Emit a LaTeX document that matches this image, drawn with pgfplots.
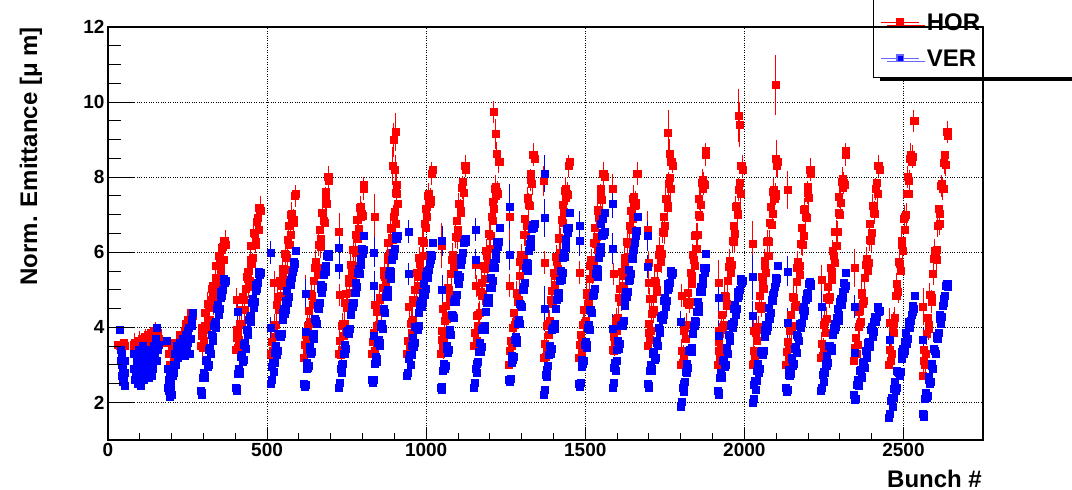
\documentclass[border=0pt]{standalone}
\usepackage{fontspec}
\setmainfont{Liberation Sans}
\usepackage{pgfplots}
\pgfplotsset{compat=1.18}
\usetikzlibrary{shadows}
\definecolor{rootred}{RGB}{255,0,0}
\definecolor{rootblue}{RGB}{0,0,255}
\pgfplotsset{
  horstyle/.style={forget plot, only marks, mark=square*, mark size=3.5bp, color=rootred, mark options={draw=none, fill=rootred}},
  verstyle/.style={forget plot, only marks, mark=square*, mark size=3.5bp, color=rootblue, mark options={draw=none, fill=rootblue}},
}
\begin{document}
\begin{tikzpicture}
\useasboundingbox (-108bp,-50bp) rectangle (964bp,440bp);
\begin{axis}[
  at={(0,0)}, anchor=south west,
  scale only axis, width=875bp, height=413bp,
  xmin=0, xmax=2750, ymin=1, ymax=12,
  xtick={0,500,...,2500}, ytick={2,4,...,12},
  minor x tick num=4, minor y tick num=3,
  xtick pos=bottom, ytick pos=left, tick align=inside,
  major tick length=13bp, minor tick length=7bp,
  grid=major, grid style={black, dotted, line width=0.8bp},
  axis line style={black, line width=1.2bp},
  tick style={black, line width=1bp},
  /pgf/number format/assume math mode=true,
  /pgf/number format/1000 sep={},
  ticklabel style={font=\bfseries\fontsize{19bp}{19bp}\selectfont},
  xlabel={Bunch \#},
  ylabel={Norm. Emittance [μ m]},
  xlabel style={at={(axis description cs:0.9989,-0.1138)}, anchor=base east, inner sep=0pt, font=\bfseries\fontsize{24bp}{24bp}\selectfont},
  ylabel style={at={(axis description cs:-0.0811,1)}, anchor=base east, inner sep=0pt, font=\bfseries\fontsize{24bp}{24bp}\selectfont},
  legend style={at={(axis description cs:0.8743,0.8758)}, anchor=south west, draw=black, line width=1bp, fill=white,
    inner xsep=7bp, inner ysep=11bp, row sep=16bp,
    font=\bfseries\fontsize{24bp}{24bp}\selectfont,
    nodes={inner xsep=4bp, inner ysep=0bp, text height=20bp, text depth=0bp},
    cells={anchor=west},
    drop shadow={shadow xshift=6bp, shadow yshift=-3.5bp, fill=black, opacity=1}},
  legend image code/.code={\draw[mark repeat=2, mark phase=2, #1, sharp plot, line width=1.3bp] plot coordinates {(0bp,-1.4bp) (19bp,-1.4bp) (38bp,-1.4bp)};},
]
% HOR, trains (first set)
\addplot[horstyle] table {
32 3.55
36 3.50
40 3.45
44 3.30
48 3.60
52 3.50
80 3.40
85 3.60
90 3.30
95 3.65
100 3.50
105 3.70
110 3.60
115 3.75
120 3.55
125 3.80
130 3.70
135 3.85
140 3.80
145 3.90
150 3.75
155 3.85
185 3.60
190 3.30
195 3.00
200 3.40
205 3.20
210 3.60
215 3.40
220 3.50
225 3.80
230 3.70
235 3.60
240 3.90
245 4.10
250 4.20
255 4.00
260 4.40
265 4.30
290 3.50
295 3.98
300 3.65
305 4.38
310 3.95
315 4.53
320 4.20
325 5.03
330 4.90
335 4.78
340 5.65
345 5.28
350 5.85
355 5.48
360 6.15
365 6.30
370 6.20
400 3.40
405 3.94
410 3.68
415 4.46
420 4.10
425 4.74
430 4.48
435 5.36
440 5.30
445 5.24
450 6.18
455 5.86
460 6.50
465 6.19
470 6.93
475 7.20
480 7.10
510 3.30
515 3.26
520 4.03
525 3.74
530 4.60
535 4.46
540 5.23
545 4.84
550 5.40
555 5.96
560 5.53
565 6.34
570 6.20
575 7.01
580 6.78
585 6.79
590 7.55
615 3.20
620 3.80
625 3.60
630 4.45
635 4.15
640 4.85
645 4.65
650 5.60
655 5.60
660 5.60
665 6.60
670 6.35
675 7.05
680 6.80
685 7.60
690 8.00
695 7.90
725 3.30
730 3.28
735 4.05
740 3.78
745 4.65
750 4.53
755 5.30
760 4.93
765 5.50
770 6.08
775 5.65
780 6.48
785 6.35
790 7.18
795 6.95
800 6.98
805 7.80
830 3.30
835 3.86
840 3.61
845 4.42
850 4.08
855 4.73
860 4.49
865 5.39
870 5.35
875 5.31
880 6.26
885 5.97
890 6.63
895 6.33
900 7.09
905 7.59
910 7.30
940 3.30
945 3.30
950 4.10
955 3.85
960 4.75
965 4.65
970 5.45
975 5.10
980 5.70
985 6.30
990 5.90
995 6.75
1000 6.65
1005 7.50
1010 7.30
1015 7.35
1020 8.20
1045 3.30
1050 3.91
1055 3.73
1060 4.59
1065 4.30
1070 5.01
1075 4.83
1080 5.79
1085 5.80
1090 5.81
1095 6.83
1100 6.59
1105 7.30
1110 7.06
1115 7.88
1120 8.30
1125 8.20
1150 3.50
1155 3.50
1160 4.30
1165 4.05
1170 4.95
1175 4.85
1180 5.65
1185 5.30
1190 5.90
1195 6.50
1200 6.10
1205 6.95
1210 6.85
1215 7.70
1220 7.50
1225 7.55
1230 8.40
1260 3.00
1265 3.65
1270 3.50
1275 4.40
1280 4.15
1285 4.90
1290 4.75
1295 5.75
1300 5.80
1305 5.85
1310 6.90
1315 6.70
1320 7.45
1325 7.25
1330 8.10
1335 8.60
1340 8.50
1370 3.20
1375 3.22
1380 4.04
1385 3.81
1390 4.73
1395 4.64
1400 5.46
1405 5.13
1410 5.75
1415 6.37
1420 5.99
1425 6.86
1430 6.78
1435 7.64
1440 7.46
1445 7.53
1450 8.40
1480 3.20
1485 3.81
1490 3.61
1495 4.47
1500 4.18
1505 4.88
1510 4.69
1515 5.64
1520 5.65
1525 5.66
1530 6.66
1535 6.42
1540 7.13
1545 6.88
1550 7.69
1555 8.10
1560 8.00
1585 3.40
1590 3.39
1595 4.18
1600 3.91
1605 4.80
1610 4.69
1615 5.48
1620 5.11
1625 5.70
1630 6.29
1635 5.88
1640 6.71
1645 6.60
1650 7.44
1655 7.23
1660 7.26
1665 8.10
1695 3.50
1700 4.11
1705 3.91
1710 4.77
1715 4.48
1720 5.18
1725 4.99
1730 5.94
1735 5.95
1740 5.96
1745 6.96
1750 6.72
1755 7.43
1760 7.18
1765 7.99
1770 8.40
1775 8.30
1800 3.00
1805 3.05
1810 3.90
1815 3.70
1820 4.65
1825 4.60
1830 5.45
1835 5.15
1840 5.80
1845 6.45
1850 6.10
1855 7.00
1860 6.95
1865 7.85
1870 7.70
1875 7.80
1880 8.70
1915 3.00
1920 3.63
1925 3.46
1930 4.34
1935 4.08
1940 4.81
1945 4.64
1950 5.62
1955 5.65
1960 5.68
1965 6.71
1970 6.49
1975 7.23
1980 7.01
1985 7.84
1990 8.30
1995 8.20
2025 3.00
2030 3.03
2035 3.86
2040 3.64
2045 4.58
2050 4.51
2055 5.34
2060 5.02
2065 5.65
2070 6.28
2075 5.91
2080 6.79
2085 6.73
2090 7.61
2095 7.44
2100 7.52
2105 8.40
2130 3.00
2135 3.63
2140 3.45
2145 4.33
2150 4.05
2155 4.78
2160 4.60
2165 5.58
2170 5.60
2175 5.63
2180 6.65
2185 6.43
2190 7.15
2195 6.93
2200 7.75
2205 8.20
2210 8.10
2240 3.20
2245 3.24
2250 4.08
2255 3.86
2260 4.80
2265 4.74
2270 5.58
2275 5.26
2280 5.90
2285 6.54
2290 6.18
2295 7.06
2300 7.00
2305 7.89
2310 7.73
2315 7.81
2320 8.70
2345 3.10
2350 3.73
2355 3.55
2360 4.43
2365 4.15
2370 4.88
2375 4.70
2380 5.68
2385 5.70
2390 5.73
2395 6.75
2400 6.53
2405 7.25
2410 7.03
2415 7.85
2420 8.30
2425 8.20
2455 3.00
2460 3.10
2465 4.00
2470 3.85
2475 4.85
2480 4.85
2485 5.75
2490 5.50
2495 6.20
2500 6.90
2505 6.60
2510 7.55
2515 7.55
2520 8.50
2525 8.40
2530 8.55
2535 9.50
2560 2.70
2565 3.41
2570 3.31
2575 4.27
2580 4.08
2585 4.88
2590 4.79
2595 5.84
2600 5.95
2605 6.06
2610 7.16
2615 7.02
2620 7.83
2625 7.68
2630 8.59
2635 9.20
2640 9.10
};
% HOR, trains (interleaved bunches)
\addplot[horstyle, error bars/.cd, y dir=both, y fixed=0.3, error mark=none, error bar style={rootred, line width=1bp}] table {
82 3.55
88 3.45
98 3.60
108 3.45
118 3.65
128 3.60
138 3.70
148 3.85
158 3.70
212 3.40
232 3.55
242 3.70
248 3.75
252 3.85
262 4.10
293 3.79
298 3.46
303 4.04
308 3.96
313 4.64
318 4.21
323 4.74
328 5.11
333 4.64
338 5.31
343 5.14
348 5.91
353 5.59
358 6.06
363 5.79
368 6.30
403 3.72
408 3.46
413 4.09
418 4.08
423 4.82
428 4.46
433 5.04
438 5.48
443 5.07
448 5.81
453 5.69
458 6.53
463 6.27
468 6.81
473 6.59
478 7.20
513 3.63
518 3.39
523 4.06
528 4.07
533 4.83
538 4.49
543 5.11
548 5.57
553 5.18
558 5.94
563 5.86
568 6.72
573 6.48
578 7.04
583 6.86
588 7.50
618 3.55
623 3.35
628 4.05
633 4.10
638 4.90
643 4.60
648 5.25
653 5.75
658 5.40
663 6.20
668 6.15
673 7.05
678 6.85
683 7.45
688 7.30
693 8.00
728 3.64
733 3.41
738 4.09
743 4.11
748 4.89
753 4.56
758 5.19
763 5.66
768 5.29
773 6.06
778 5.99
783 6.86
788 6.64
793 7.21
798 7.04
803 7.70
833 3.63
838 3.38
843 4.04
848 4.05
853 4.80
858 4.46
863 5.06
868 5.52
873 5.13
878 5.88
883 5.79
888 6.65
893 6.40
898 6.96
903 6.77
908 7.57
943 3.65
948 3.45
953 4.15
958 4.20
963 5.00
968 4.70
973 5.35
978 5.85
983 5.50
988 6.30
993 6.25
998 7.15
1003 6.95
1008 7.55
1013 7.40
1018 8.10
1048 3.66
1053 3.47
1058 4.18
1063 4.24
1068 5.06
1073 4.77
1078 5.43
1083 5.94
1088 5.61
1093 6.42
1098 6.38
1103 7.29
1108 7.11
1113 7.72
1118 7.58
1123 8.30
1153 3.85
1158 3.65
1163 4.35
1168 4.40
1173 5.20
1178 4.90
1183 5.55
1188 6.05
1193 5.70
1198 6.50
1203 6.45
1208 7.35
1213 7.15
1218 7.75
1223 7.60
1228 8.40
1263 3.38
1268 3.23
1273 3.98
1278 4.08
1283 4.93
1288 4.68
1293 5.38
1298 5.93
1303 5.63
1308 6.48
1313 6.48
1318 7.43
1323 7.28
1328 7.93
1333 7.83
1338 8.60
1373 3.56
1378 3.38
1383 4.10
1388 4.17
1393 4.98
1398 4.70
1403 5.37
1408 5.89
1413 5.56
1418 6.38
1423 6.35
1428 7.27
1433 7.08
1438 7.70
1443 7.57
1448 8.30
1483 3.55
1488 3.36
1493 4.07
1498 4.12
1503 4.93
1508 4.64
1513 5.29
1518 5.80
1523 5.45
1528 6.26
1533 6.22
1538 7.12
1543 6.93
1548 7.53
1553 7.39
1558 8.10
1588 3.74
1593 3.53
1598 4.22
1603 4.26
1608 5.04
1613 4.73
1618 5.37
1623 5.86
1628 5.49
1633 6.28
1638 6.22
1643 7.11
1648 6.89
1653 7.48
1658 7.32
1663 8.10
1698 3.85
1703 3.66
1708 4.37
1713 4.42
1718 5.23
1723 4.94
1728 5.59
1733 6.10
1738 5.75
1743 6.56
1748 6.52
1753 7.42
1758 7.23
1763 7.83
1768 7.69
1773 8.40
1803 3.38
1808 3.23
1813 3.98
1818 4.08
1823 4.93
1828 4.68
1833 5.38
1838 5.93
1843 5.63
1848 6.48
1853 6.48
1858 7.43
1863 7.28
1868 7.93
1873 7.83
1878 8.60
1918 3.37
1923 3.20
1928 3.93
1933 4.01
1938 4.84
1943 4.57
1948 5.25
1953 5.78
1958 5.46
1963 6.30
1968 6.28
1973 7.21
1978 7.04
1983 7.67
1988 7.55
1993 8.30
2028 3.37
2033 3.20
2038 3.93
2043 4.01
2048 4.84
2053 4.57
2058 5.25
2063 5.78
2068 5.46
2073 6.30
2078 6.28
2083 7.21
2088 7.04
2093 7.67
2098 7.55
2103 8.30
2133 3.36
2138 3.19
2143 3.91
2148 3.99
2153 4.81
2158 4.54
2163 5.21
2168 5.74
2173 5.41
2178 6.24
2183 6.21
2188 7.14
2193 6.96
2198 7.59
2203 7.46
2208 8.20
2243 3.57
2248 3.41
2253 4.14
2258 4.23
2263 5.07
2268 4.81
2273 5.49
2278 6.03
2283 5.72
2288 6.56
2293 6.54
2298 7.48
2303 7.32
2308 7.96
2313 7.84
2318 8.60
2348 3.46
2353 3.29
2358 4.01
2363 4.09
2368 4.91
2373 4.64
2378 5.31
2383 5.84
2388 5.51
2393 6.34
2398 6.31
2403 7.24
2408 7.06
2413 7.69
2418 7.56
2423 8.30
2458 3.40
2463 3.30
2468 4.10
2473 4.25
2478 5.15
2483 4.95
2488 5.70
2493 6.30
2498 6.05
2503 6.95
2508 7.00
2513 8.00
2518 7.90
2523 8.60
2528 8.55
2533 9.50
2563 3.10
2568 3.01
2573 3.82
2578 3.97
2583 4.88
2588 4.69
2593 5.44
2598 6.05
2603 5.81
2608 6.71
2613 6.77
2618 7.77
2623 7.68
2628 8.39
2633 8.34
2638 9.20
};
% HOR, isolated bunches
\addplot[horstyle, error bars/.cd, y dir=both, y explicit, error mark=none, error bar style={rootred, line width=1bp}]
  table[x index=0, y index=1, y error index=2] {
405 4.75 0.30
522 5.20 0.30
622 4.90 0.50
726 6.55 0.50
728 4.86 0.30
839 6.96 0.60
839 4.60 0.30
895 8.30 0.50
898 9.00 0.45
902 8.20 0.40
905 9.20 0.50
908 7.80 0.30
946 4.54 0.30
1049 6.17 0.60
1052 4.50 0.30
1155 5.68 0.40
1157 5.10 0.30
1212 9.74 0.30
1218 9.16 0.40
1222 8.63 0.30
1262 6.96 0.70
1263 5.11 0.30
1370 7.90 0.40
1372 5.73 0.30
1483 5.46 0.30
1587 7.68 0.40
1588 5.42 0.30
1697 6.60 0.50
1699 5.73 0.30
1700 5.20 0.30
1702 4.76 0.30
1760 9.18 0.60
1764 8.63 0.40
1802 4.85 0.30
1918 5.20 0.60
1918 3.90 0.30
1982 9.65 0.70
1986 9.40 0.60
2027 6.24 0.60
2028 3.90 0.30
2098 10.46 0.80
2100 8.50 0.50
2137 7.66 0.50
2242 5.27 0.40
2347 5.58 0.50
2457 4.12 0.40
2562 4.56 0.50
};
% VER, trains (first set)
\addplot[verstyle] table {
40 3.40
42 3.20
44 3.00
46 2.90
48 2.80
50 2.60
52 2.45
54 3.10
44 3.30
50 2.70
80 2.90
82 3.30
85 2.60
90 3.10
92 2.50
95 3.40
100 2.80
105 3.20
108 2.70
110 3.50
112 2.60
115 3.00
118 2.70
120 3.30
125 2.90
128 2.65
130 3.40
135 3.10
138 2.70
140 3.30
145 3.50
148 3.20
150 3.70
155 3.40
185 3.65
187 2.90
190 2.60
192 2.30
195 2.15
197 2.50
200 2.20
203 2.70
206 3.00
210 3.30
215 3.50
220 3.20
225 3.60
230 3.40
235 3.70
240 3.50
240 3.25
245 3.80
250 3.60
255 4.00
258 3.30
262 4.20
266 4.40
290 2.30
295 2.25
300 2.80
305 2.70
310 3.15
315 3.00
320 3.45
325 3.80
330 3.65
335 4.10
340 4.15
345 4.60
350 4.50
355 4.95
360 5.00
365 5.30
370 5.25
400 2.40
405 2.36
410 2.91
415 2.82
420 3.28
425 3.13
430 3.59
435 3.94
440 3.80
445 4.26
450 4.31
455 4.77
460 4.68
465 5.13
470 5.19
475 5.49
480 5.45
510 2.50
515 2.96
520 2.81
525 3.32
530 3.28
535 3.83
540 3.79
545 3.84
550 4.40
555 4.36
560 4.71
565 4.67
570 5.18
575 5.13
580 5.49
585 5.59
590 6.05
615 2.50
620 2.48
625 3.06
630 2.99
635 3.48
640 3.36
645 3.84
650 4.22
655 4.10
660 4.58
665 4.66
670 5.14
675 5.08
680 5.56
685 5.64
690 5.97
695 5.95
725 2.40
730 2.89
735 2.78
740 3.31
745 3.30
750 3.89
755 3.88
760 3.96
765 4.55
770 4.54
775 4.93
780 4.91
785 5.45
790 5.44
795 5.83
800 5.96
805 6.45
830 2.60
835 2.61
840 3.21
845 3.17
850 3.68
855 3.58
860 4.09
865 4.49
870 4.40
875 4.91
880 5.01
885 5.52
890 5.48
895 5.98
900 6.09
905 6.44
910 6.45
940 2.70
945 3.16
950 3.01
955 3.52
960 3.48
965 4.03
970 3.99
975 4.04
980 4.60
985 4.56
990 4.91
995 4.87
1000 5.38
1005 5.33
1010 5.69
1015 5.79
1020 6.25
1045 2.40
1050 2.41
1055 3.03
1060 2.99
1065 3.50
1070 3.41
1075 3.93
1080 4.34
1085 4.25
1090 4.76
1095 4.88
1100 5.39
1105 5.35
1110 5.86
1115 5.98
1120 6.34
1125 6.35
1150 2.40
1155 2.90
1160 2.80
1165 3.35
1170 3.35
1175 3.95
1180 3.95
1185 4.05
1190 4.65
1195 4.65
1200 5.05
1205 5.05
1210 5.60
1215 5.60
1220 6.00
1225 6.15
1230 6.65
1260 2.60
1265 2.63
1270 3.25
1275 3.23
1280 3.75
1285 3.68
1290 4.20
1295 4.63
1300 4.55
1305 5.08
1310 5.20
1315 5.73
1320 5.70
1325 6.23
1330 6.35
1335 6.73
1340 6.75
1370 2.20
1375 2.74
1380 2.68
1385 3.26
1390 3.30
1395 3.94
1400 3.98
1405 4.11
1410 4.75
1415 4.79
1420 5.23
1425 5.26
1430 5.85
1435 5.89
1440 6.33
1445 6.51
1450 7.05
1480 2.50
1485 2.52
1490 3.14
1495 3.11
1500 3.63
1505 3.54
1510 4.06
1515 4.48
1520 4.40
1525 4.92
1530 5.04
1535 5.56
1540 5.53
1545 6.04
1550 6.16
1555 6.53
1560 6.55
1585 2.40
1590 2.92
1595 2.84
1600 3.41
1605 3.43
1610 4.04
1615 4.06
1620 4.18
1625 4.80
1630 4.82
1635 5.24
1640 5.26
1645 5.83
1650 5.84
1655 6.26
1660 6.43
1665 6.95
1695 2.50
1700 2.45
1705 3.00
1710 2.90
1715 3.35
1720 3.20
1725 3.65
1730 4.00
1735 3.85
1740 4.30
1745 4.35
1750 4.80
1755 4.70
1760 5.15
1765 5.20
1770 5.50
1775 5.45
1800 1.90
1805 2.39
1810 2.28
1815 2.81
1820 2.80
1825 3.39
1830 3.38
1835 3.46
1840 4.05
1845 4.04
1850 4.43
1855 4.41
1860 4.95
1865 4.94
1870 5.33
1875 5.46
1880 5.95
1915 2.30
1920 2.25
1925 2.80
1930 2.70
1935 3.15
1940 3.00
1945 3.45
1950 3.80
1955 3.65
1960 4.10
1965 4.15
1970 4.60
1975 4.50
1980 4.95
1985 5.00
1990 5.30
1995 5.25
2025 2.00
2030 2.46
2035 2.33
2040 2.84
2045 2.80
2050 3.36
2055 3.33
2060 3.39
2065 3.95
2070 3.91
2075 4.28
2080 4.24
2085 4.75
2090 4.71
2095 5.08
2100 5.19
2105 5.65
2130 2.40
2135 2.34
2140 2.88
2145 2.76
2150 3.20
2155 3.04
2160 3.48
2165 3.81
2170 3.65
2175 4.09
2180 4.13
2185 4.56
2190 4.45
2195 4.89
2200 4.93
2205 5.21
2210 5.15
2240 2.30
2245 2.73
2250 2.56
2255 3.04
2260 2.98
2265 3.51
2270 3.44
2275 3.47
2280 4.00
2285 3.93
2290 4.26
2295 4.19
2300 4.68
2305 4.61
2310 4.94
2315 5.02
2320 5.45
2345 2.20
2350 2.11
2355 2.61
2360 2.47
2365 2.88
2370 2.68
2375 3.09
2380 3.39
2385 3.20
2390 3.61
2395 3.61
2400 4.02
2405 3.88
2410 4.28
2415 4.29
2420 4.54
2425 4.45
2455 1.60
2460 2.04
2465 1.88
2470 2.36
2475 2.30
2480 2.84
2485 2.78
2490 2.81
2495 3.35
2500 3.29
2505 3.63
2510 3.56
2515 4.05
2520 3.99
2525 4.33
2530 4.41
2535 4.85
2560 1.70
2565 1.68
2570 2.26
2575 2.19
2580 2.68
2585 2.56
2590 3.04
2595 3.42
2600 3.30
2605 3.78
2610 3.86
2615 4.34
2620 4.28
2625 4.76
2630 4.84
2635 5.17
2640 5.15
};
% VER, trains (interleaved bunches)
\addplot[verstyle] table {
41 3.10
43 2.70
47 2.55
53 2.80
87 2.80
97 3.00
102 3.30
103 2.45
113 3.20
117 2.95
122 3.10
132 3.00
142 2.90
153 3.10
158 3.55
189 2.40
194 2.70
198 2.35
205 2.80
212 3.00
218 3.40
228 3.30
232 3.55
238 3.60
248 3.40
252 3.90
260 3.70
264 4.05
293 2.20
298 2.65
303 2.65
308 3.10
313 2.95
318 3.40
323 3.30
328 3.75
333 4.05
338 4.00
343 4.50
348 4.35
353 4.80
358 4.85
363 5.25
368 5.20
403 2.30
408 2.76
413 2.77
418 3.22
423 3.08
428 3.53
433 3.44
438 3.90
443 4.20
448 4.16
453 4.67
458 4.52
463 4.98
468 5.03
473 5.44
478 5.40
513 2.60
518 3.06
523 3.07
528 3.52
533 3.38
538 3.83
543 3.74
548 4.20
553 4.50
558 4.46
563 4.97
568 4.82
573 5.28
578 5.33
583 5.74
588 5.70
618 2.42
623 2.90
628 2.93
633 3.41
638 3.29
643 3.77
648 3.70
653 4.18
658 4.52
663 4.50
668 5.03
673 4.91
678 5.39
683 5.47
688 5.90
693 5.88
728 2.52
733 3.01
738 3.04
743 3.53
748 3.42
753 3.91
758 3.84
763 4.33
768 4.67
773 4.66
778 5.19
783 5.08
788 5.57
793 5.66
798 6.09
803 6.08
833 2.53
838 3.03
843 3.09
848 3.60
853 3.50
858 4.01
863 3.96
868 4.47
873 4.83
878 4.83
883 5.39
888 5.30
893 5.80
898 5.91
903 6.37
908 6.37
943 2.80
948 3.26
953 3.27
958 3.72
963 3.58
968 4.03
973 3.94
978 4.40
983 4.70
988 4.66
993 5.17
998 5.02
1003 5.48
1008 5.53
1013 5.94
1018 5.90
1048 2.33
1053 2.84
1058 2.91
1063 3.42
1068 3.33
1073 3.84
1078 3.81
1083 4.32
1088 4.68
1093 4.69
1098 5.26
1103 5.17
1108 5.68
1113 5.79
1118 6.26
1123 6.27
1153 2.53
1158 3.03
1163 3.08
1168 3.58
1173 3.48
1178 3.98
1183 3.93
1188 4.43
1193 4.78
1198 4.78
1203 5.33
1208 5.23
1213 5.73
1218 5.83
1223 6.28
1228 6.28
1263 2.54
1268 3.06
1273 3.14
1278 3.66
1283 3.59
1288 4.11
1293 4.09
1298 4.61
1303 4.99
1308 5.01
1313 5.59
1318 5.51
1323 6.04
1328 6.16
1333 6.64
1338 6.66
1373 2.34
1378 2.88
1383 2.97
1388 3.51
1393 3.44
1398 3.98
1403 3.97
1408 4.51
1413 4.89
1418 4.93
1423 5.52
1428 5.46
1433 5.99
1438 6.13
1443 6.62
1448 6.66
1483 2.43
1488 2.95
1493 3.02
1498 3.54
1503 3.46
1508 3.98
1513 3.95
1518 4.47
1523 4.84
1528 4.86
1533 5.43
1538 5.34
1543 5.86
1548 5.98
1553 6.45
1558 6.47
1550 6.75
1555 6.90
1560 7.05
1588 2.53
1593 3.05
1598 3.12
1603 3.64
1608 3.56
1613 4.08
1618 4.05
1623 4.57
1628 4.94
1633 4.96
1638 5.53
1643 5.44
1648 5.96
1653 6.08
1658 6.55
1663 6.57
1698 2.40
1703 2.85
1708 2.85
1713 3.30
1718 3.15
1723 3.60
1728 3.50
1733 3.95
1738 4.25
1743 4.20
1748 4.70
1753 4.55
1758 5.00
1763 5.05
1768 5.45
1773 5.40
1803 2.02
1808 2.51
1813 2.54
1818 3.03
1823 2.92
1828 3.41
1833 3.34
1838 3.83
1843 4.17
1848 4.16
1853 4.69
1858 4.58
1863 5.07
1868 5.16
1873 5.59
1878 5.58
1918 2.20
1923 2.65
1928 2.65
1933 3.10
1938 2.95
1943 3.40
1948 3.30
1953 3.75
1958 4.05
1963 4.00
1968 4.50
1973 4.35
1978 4.80
1983 4.85
1988 5.25
1993 5.20
2028 2.11
2033 2.57
2038 2.58
2043 3.04
2048 2.91
2053 3.37
2058 3.28
2063 3.74
2068 4.06
2073 4.02
2078 4.53
2083 4.39
2088 4.86
2093 4.92
2098 5.33
2103 5.29
2133 2.29
2138 2.73
2143 2.72
2148 3.16
2153 2.99
2158 3.43
2163 3.32
2168 3.76
2173 4.04
2178 3.98
2183 4.47
2188 4.31
2193 4.74
2198 4.78
2203 5.17
2208 5.11
2243 2.39
2248 2.82
2253 2.80
2258 3.24
2263 3.07
2268 3.50
2273 3.38
2278 3.81
2283 4.09
2288 4.02
2293 4.50
2298 4.33
2303 4.77
2308 4.80
2313 5.18
2318 5.11
2348 2.08
2353 2.48
2358 2.44
2363 2.85
2368 2.65
2373 3.06
2378 2.92
2383 3.32
2388 3.58
2393 3.49
2398 3.94
2403 3.75
2408 4.15
2413 4.16
2418 4.52
2423 4.42
2458 1.69
2463 2.13
2468 2.12
2473 2.56
2478 2.39
2483 2.83
2488 2.72
2493 3.16
2498 3.44
2503 3.38
2508 3.87
2513 3.71
2518 4.14
2523 4.18
2528 4.57
2533 4.51
2563 1.62
2568 2.10
2573 2.13
2578 2.61
2583 2.49
2588 2.97
2593 2.90
2598 3.38
2603 3.72
2608 3.70
2613 4.23
2618 4.11
2623 4.59
2628 4.67
2633 5.10
2638 5.08
};
% VER, isolated bunches
\addplot[verstyle, error bars/.cd, y dir=both, y explicit, error mark=none, error bar style={rootblue, line width=1bp}]
  table[x index=0, y index=1, y error index=2] {
38 3.93 0.10
152 4.00 0.10
408 4.42 0.30
512 6.00 0.30
512 3.98 0.30
620 4.89 0.40
620 3.88 0.30
726 6.12 0.30
726 5.60 0.30
836 6.00 0.40
836 5.10 0.40
836 3.77 0.30
945 6.56 0.30
945 5.42 0.30
1050 6.30 0.40
1050 5.00 0.40
1155 6.60 0.30
1155 5.80 0.30
1262 7.22 0.60
1262 5.93 0.40
1372 8.10 0.50
1372 6.92 0.50
1372 4.50 0.60
1483 6.70 0.40
1483 6.30 0.40
1587 7.30 0.40
1587 6.10 0.40
1587 3.96 0.40
1697 6.43 0.40
1697 5.62 0.30
1800 4.14 0.30
1918 4.80 0.50
1918 3.77 0.40
2027 5.34 0.60
2027 4.30 0.40
2137 5.49 0.40
2137 4.12 0.40
2242 4.56 0.40
2347 4.56 0.30
2347 3.32 0.30
2457 3.68 0.40
2562 3.68 0.30
};
\addlegendimage{rootred, mark=square*, mark size=3.2bp, mark options={draw=none, fill=rootred}}
\addlegendentry{\hspace{3bp}\makebox[150bp][l]{HOR}}
\addlegendimage{rootblue!60, mark=square*, mark size=3.2bp, mark options={draw=none, fill=rootblue}}
\addlegendentry{\hspace{3bp}\makebox[150bp][l]{VER}}
\end{axis}
\begin{axis}[
  at={(0,0)}, anchor=south west,
  scale only axis, width=875bp, height=413bp,
  xmin=0, xmax=2750, ymin=1, ymax=12,
  xtick=\empty, ytick={2,4,...,12}, yticklabels={},
  minor y tick num=3, ytick pos=left, tick align=inside,
  major tick length=27bp, minor tick length=13bp,
  axis line style={black, line width=1.2bp},
  tick style={black, line width=1bp},
]
\end{axis}
\node[anchor=base west, inner sep=0pt, font=\bfseries\fontsize{24bp}{24bp}\selectfont] at (37bp,443.3bp) {\rlap{\_}\hspace{62bp}\rlap{\_}\hspace{75bp}\_};
\end{tikzpicture}
\end{document}
